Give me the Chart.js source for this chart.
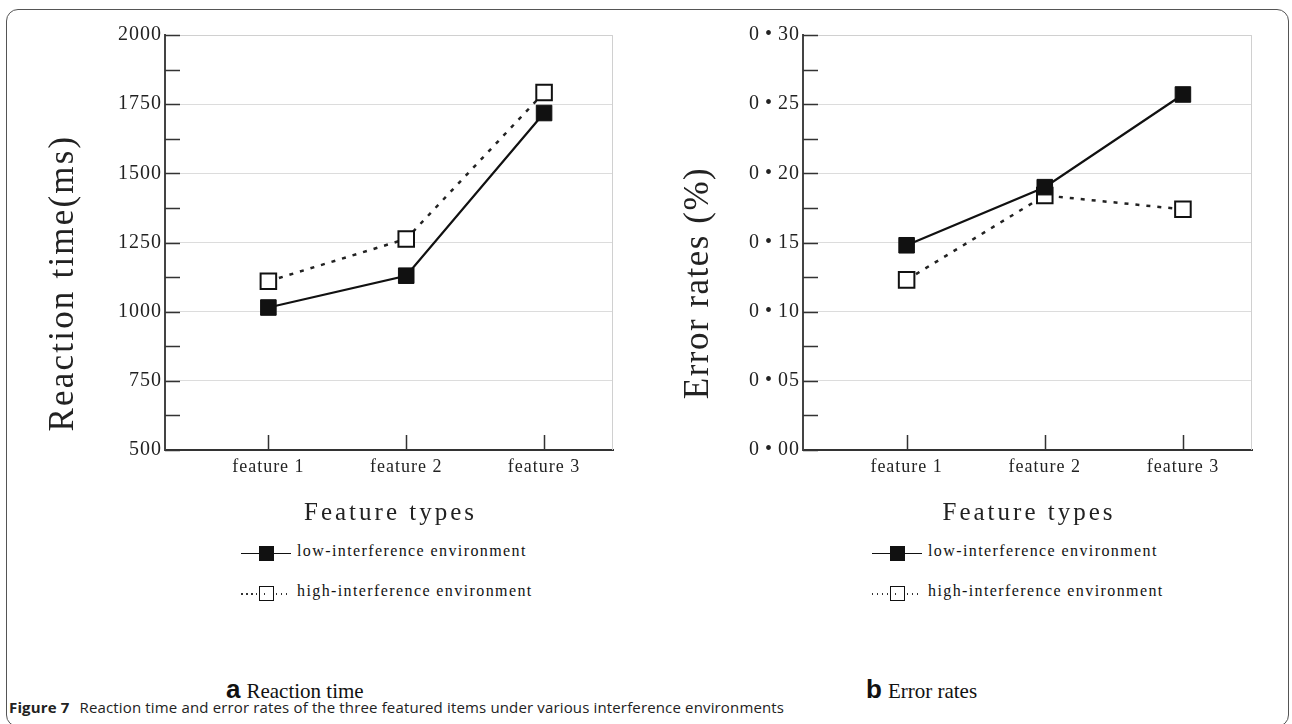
<!DOCTYPE html>
<html>
<head>
<meta charset="utf-8">
<script src="https://cdn.jsdelivr.net/npm/chart.js@4"></script>
<style>
  body { margin: 0; width: 1292px; height: 724px; background: #fff; position: relative; overflow: hidden; }
  .frame { position: absolute; left: 6px; top: 9px; width: 1283px; height: 718px; border: 1.5px solid #555; border-radius: 12px; box-sizing: border-box; }
  canvas { position: absolute; }
  .legend { position: absolute; font-family: 'Liberation Serif', serif; font-size: 16px; color: #111; letter-spacing: 1.4px; }
  .row { position: absolute; white-space: nowrap; height: 16px; line-height: 16px; }
  .row .ln { position: absolute; top: 8px; height: 0; }
  .row .dots { position: absolute; top: 8px; height: 1.5px; background: repeating-linear-gradient(to right, #333 0 1.5px, transparent 1.5px 5px); }
  .row .sq { position: absolute; top: 1px; width: 15px; height: 15px; box-sizing: border-box; border: 1.5px solid #111; }
  .row .tx { position: absolute; left: 56px; top: -2px; }
  .sub { position: absolute; white-space: nowrap; font-family: 'Liberation Serif', serif; font-size: 21px; color: #111; }
  .sub b { font-family: 'Liberation Sans', sans-serif; font-size: 26px; margin-right: 6px; }
  .cap { position: absolute; left: 9px; top: 697px; white-space: nowrap; font-family: 'Liberation Sans Narrow', 'Open Sans', sans-serif; font-size: 15px; color: #222; letter-spacing: 0.15px; }
  .cap b { margin-right: 6px; }
</style>
</head>
<body>
<div class="frame"></div>
<canvas id="rtChart" width="640" height="530" style="left:0;top:0"></canvas>
<canvas id="erChart" width="646" height="530" style="left:640px;top:0"></canvas>

<div class="legend" style="left:241px;top:545px">
  <div class="row" style="top:0">
    <div class="ln" style="left:0;width:50px;border-top:1.5px solid #111"></div>
    <div class="sq" style="left:18px;background:#111"></div>
    <div class="tx">low-interference environment</div>
  </div>
  <div class="row" style="top:40px">
    <div class="dots" style="left:0;width:50px"></div>
    <div class="sq" style="left:18px;background:#fff"></div>
    <div class="dots" style="left:23px;width:5px"></div>
    <div class="tx">high-interference environment</div>
  </div>
</div>
<div class="legend" style="left:872px;top:545px">
  <div class="row" style="top:0">
    <div class="ln" style="left:0;width:50px;border-top:1.5px solid #111"></div>
    <div class="sq" style="left:18px;background:#111"></div>
    <div class="tx">low-interference environment</div>
  </div>
  <div class="row" style="top:40px">
    <div class="dots" style="left:0;width:50px"></div>
    <div class="sq" style="left:18px;background:#fff"></div>
    <div class="dots" style="left:23px;width:5px"></div>
    <div class="tx">high-interference environment</div>
  </div>
</div>

<div class="sub" style="left:226px;top:674px"><b>a</b>Reaction time</div>
<div class="sub" style="left:866px;top:674px"><b>b</b>Error rates</div>
<div class="cap"><b>Figure 7</b> Reaction time and error rates of the three featured items under various interference environments</div>

<script>
const categories = ['feature 1', 'feature 2', 'feature 3'];
const seriesNames = ['low-interference environment', 'high-interference environment'];

// reaction time (ms)
const rtLow = [1015, 1130, 1718];
const rtHigh = [1110, 1263, 1792];
const rtTicks = [500, 750, 1000, 1250, 1500, 1750, 2000];

// error rates
const erLow = [0.148, 0.190, 0.257];
const erHigh = [0.123, 0.184, 0.174];
const erTicks = [0, 0.05, 0.10, 0.15, 0.20, 0.25, 0.30];

const serif = "'Liberation Serif', serif";

// tick marks drawn inside the plot, light frame on top/right, axis titles
const axisDeco = {
  id: 'axisDeco',
  beforeDraw(chart) {
    chart.ctx.letterSpacing = '1px';
  },
  afterDraw(chart, args, opts) {
    const {ctx, chartArea: a, scales: {x, y}} = chart;
    ctx.save();
    ctx.strokeStyle = '#d0d0d0';
    ctx.lineWidth = 1;
    ctx.beginPath();
    ctx.moveTo(a.left, a.top + 0.5);
    ctx.lineTo(a.right - 0.5, a.top + 0.5);
    ctx.lineTo(a.right - 0.5, a.bottom);
    ctx.stroke();
    ctx.strokeStyle = '#333';
    ctx.lineWidth = 1.5;
    ctx.beginPath();
    for (let v = y.min; v <= y.max + 1e-9; v += opts.minor) {
      const py = Math.round(y.getPixelForValue(v)) + 0.5;
      ctx.moveTo(a.left, py);
      ctx.lineTo(a.left + 15, py);
    }
    categories.forEach((c, i) => {
      const px = Math.round(x.getPixelForValue(i + 1)) + 0.5;
      ctx.moveTo(px, a.bottom);
      ctx.lineTo(px, a.bottom - 15);
    });
    ctx.stroke();

    ctx.fillStyle = '#222';
    ctx.textAlign = 'center';
    ctx.textBaseline = 'alphabetic';
    ctx.font = '25px ' + serif;
    ctx.letterSpacing = '3px';
    ctx.fillText('Feature types', (a.left + a.right) / 2 + 1.5, 520);

    ctx.translate(opts.titleX, opts.titleY);
    ctx.rotate(-Math.PI / 2);
    ctx.font = '35px ' + serif;
    ctx.letterSpacing = opts.titleSpacing;
    ctx.textBaseline = 'middle';
    ctx.fillText(opts.title, 0, 0);
    ctx.restore();
  }
};

function makeChart(id, low, high, yopts) {
  const toPts = arr => arr.map((v, i) => ({x: i + 1, y: v}));
  return new Chart(document.getElementById(id), {
    type: 'line',
    data: {
      datasets: [
        {label: seriesNames[0], data: toPts(low), borderColor: '#111', borderWidth: 2.2,
         pointStyle: 'rect', pointRadius: 11, pointBackgroundColor: '#111', pointBorderColor: '#111', pointBorderWidth: 1},
        {label: seriesNames[1], data: toPts(high), borderColor: '#222', borderWidth: 2.5, borderDash: [4, 7],
         pointStyle: 'rect', pointRadius: 11, pointBackgroundColor: '#fff', pointBorderColor: '#111', pointBorderWidth: 2}
      ]
    },
    options: {
      responsive: false,
      animation: false,
      layout: {padding: {left: 0, right: yopts.padRight, top: 35, bottom: 0}},
      plugins: {
        legend: {display: false}, tooltip: {enabled: false},
        axisDeco: {minor: yopts.minor, title: yopts.title, titleX: yopts.titleX, titleY: 283, titleSpacing: yopts.titleSpacing}
      },
      scales: {
        x: {
          type: 'linear', min: 0.25, max: 3.5,
          afterBuildTicks: s => { s.ticks = categories.map((c, i) => ({value: i + 1})); },
          afterFit: s => { s.height = 80; },
          ticks: {color: '#222', font: {family: serif, size: 18}, padding: 6, maxRotation: 0,
                  callback: v => categories[v - 1]},
          grid: {display: false, drawTicks: false},
          border: {color: '#333', width: 2}
        },
        y: {
          min: yopts.min, max: yopts.max,
          afterBuildTicks: s => { s.ticks = yopts.ticks.map(v => ({value: v})); },
          afterFit: s => { s.width = yopts.axisWidth; },
          ticks: {color: '#222', font: {family: serif, size: 20}, padding: 3, callback: yopts.label},
          grid: {color: '#dcdcdc', lineWidth: 1, drawTicks: false},
          border: {color: '#444', width: 2}
        }
      }
    },
    plugins: [axisDeco]
  });
}

makeChart('rtChart', rtLow, rtHigh, {
  min: 500, max: 2000, minor: 125, ticks: rtTicks, label: v => String(v),
  title: 'Reaction time(ms)', titleX: 64, titleSpacing: '2.2px', axisWidth: 165, padRight: 27
});

makeChart('erChart', erLow, erHigh, {
  min: 0, max: 0.3, minor: 0.025, ticks: erTicks,
  label: v => v.toFixed(2).replace('.', '\u2009\u2022\u2009'),
  title: 'Error rates (%)', titleX: 59, titleSpacing: '1.5px', axisWidth: 163, padRight: 34
});
</script>
</body>
</html>
